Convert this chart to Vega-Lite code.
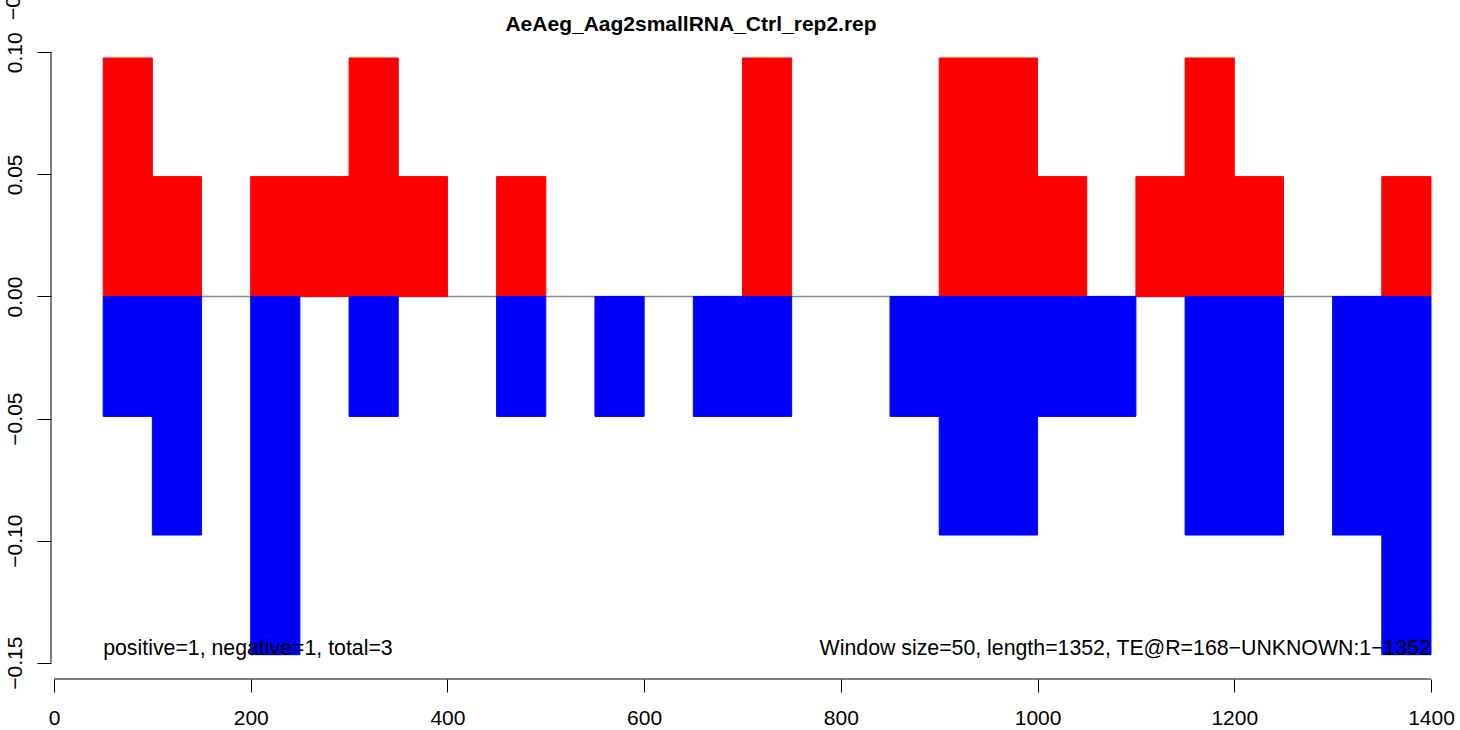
{
  "$schema": "https://vega.github.io/schema/vega-lite/v6.json",
  "width": 1409,
  "height": 649,
  "autosize": "none",
  "padding": {"left": 51, "top": 30, "right": 0, "bottom": 51},
  "background": "white",
  "config": {
    "view": {"stroke": null},
    "font": "Liberation Sans",
    "axisX": {"domain": false, "grid": false, "tickSize": 13, "tickColor": "black", "tickWidth": 1, "labelFontSize": 21, "labelColor": "black", "labelPadding": 15, "labelFont": "Liberation Sans", "title": null},
    "axisY": {"domain": false, "grid": false, "tickSize": 14, "tickColor": "black", "tickWidth": 1, "labelFontSize": 21, "labelColor": "black", "labelPadding": 16, "labelAngle": 270, "labelAlign": "center", "labelBaseline": "alphabetic", "labelFont": "Liberation Sans", "title": null}
  },
  "title": {
    "text": "AeAeg_Aag2smallRNA_Ctrl_rep2.rep",
    "font": "Liberation Sans",
    "fontSize": 21,
    "fontWeight": "bold",
    "color": "black",
    "anchor": "middle",
    "frame": "group",
    "dx": -64.5,
    "baseline": "alphabetic",
    "offset": -85
  },
  "datasets": {
    "bars": [
      {"x": 50, "x2": 100, "y": 0.0977, "strand": "positive"},
      {"x": 100, "x2": 150, "y": 0.0491, "strand": "positive"},
      {"x": 200, "x2": 250, "y": 0.0491, "strand": "positive"},
      {"x": 250, "x2": 300, "y": 0.0491, "strand": "positive"},
      {"x": 300, "x2": 350, "y": 0.0977, "strand": "positive"},
      {"x": 350, "x2": 400, "y": 0.0491, "strand": "positive"},
      {"x": 450, "x2": 500, "y": 0.0491, "strand": "positive"},
      {"x": 700, "x2": 750, "y": 0.0977, "strand": "positive"},
      {"x": 900, "x2": 950, "y": 0.0977, "strand": "positive"},
      {"x": 950, "x2": 1000, "y": 0.0977, "strand": "positive"},
      {"x": 1000, "x2": 1050, "y": 0.0491, "strand": "positive"},
      {"x": 1100, "x2": 1150, "y": 0.0491, "strand": "positive"},
      {"x": 1150, "x2": 1200, "y": 0.0977, "strand": "positive"},
      {"x": 1200, "x2": 1250, "y": 0.0491, "strand": "positive"},
      {"x": 1350, "x2": 1400, "y": 0.0491, "strand": "positive"},
      {"x": 50, "x2": 100, "y": -0.0491, "strand": "negative"},
      {"x": 100, "x2": 150, "y": -0.0977, "strand": "negative"},
      {"x": 200, "x2": 250, "y": -0.1467, "strand": "negative"},
      {"x": 300, "x2": 350, "y": -0.0491, "strand": "negative"},
      {"x": 450, "x2": 500, "y": -0.0491, "strand": "negative"},
      {"x": 550, "x2": 600, "y": -0.0491, "strand": "negative"},
      {"x": 650, "x2": 700, "y": -0.0491, "strand": "negative"},
      {"x": 700, "x2": 750, "y": -0.0491, "strand": "negative"},
      {"x": 850, "x2": 900, "y": -0.0491, "strand": "negative"},
      {"x": 900, "x2": 950, "y": -0.0977, "strand": "negative"},
      {"x": 950, "x2": 1000, "y": -0.0977, "strand": "negative"},
      {"x": 1000, "x2": 1050, "y": -0.0491, "strand": "negative"},
      {"x": 1050, "x2": 1100, "y": -0.0491, "strand": "negative"},
      {"x": 1150, "x2": 1200, "y": -0.0977, "strand": "negative"},
      {"x": 1200, "x2": 1250, "y": -0.0977, "strand": "negative"},
      {"x": 1300, "x2": 1350, "y": -0.0977, "strand": "negative"},
      {"x": 1350, "x2": 1400, "y": -0.1467, "strand": "negative"}
    ],
    "zeroline": [{"x": 50, "x2": 1400, "y": 0}],
    "xaxisline": [{"x": 0, "x2": 1400, "y": -0.15666}],
    "yaxisline": [{"x": -3.05, "y": -0.15, "y2": 0.1}],
    "notes": [
      {"x": 50, "y": -0.1467, "label": "positive=1, negative=1, total=3", "side": "left"},
      {"x": 1400, "y": -0.1467, "label": "Window size=50, length=1352, TE@R=168\u2212UNKNOWN:1\u22121352", "side": "right"}
    ],
    "fragment": [{"x": -34.6, "y": 0.1132, "label": "\u22120.05"}]
  },
  "layer": [
    {
      "data": {"name": "zeroline"},
      "mark": {"type": "rule", "color": "#8c8c8c", "strokeWidth": 1.5},
      "encoding": {
        "x": {"field": "x", "type": "quantitative", "scale": {"domain": [-3.05, 1429.5], "nice": false, "zero": false}, "axis": {"values": [0, 200, 400, 600, 800, 1000, 1200, 1400], "format": "d", "title": null}},
        "x2": {"field": "x2"},
        "y": {"field": "y", "type": "quantitative", "scale": {"domain": [-0.15666, 0.10915], "nice": false, "zero": false}, "axis": {"values": [-0.15, -0.1, -0.05, 0, 0.05, 0.1], "format": ".2f", "title": null}}
      }
    },
    {
      "data": {"name": "bars"},
      "mark": {"type": "bar", "strokeWidth": 1},
      "encoding": {
        "x": {"field": "x", "type": "quantitative"},
        "x2": {"field": "x2"},
        "y": {"field": "y", "type": "quantitative"},
        "y2": {"datum": 0},
        "fill": {"field": "strand", "type": "nominal", "scale": {"domain": ["positive", "negative"], "range": ["#ff0000", "#0000ff"]}, "legend": null},
        "stroke": {"field": "strand", "type": "nominal", "scale": {"domain": ["positive", "negative"], "range": ["#ff0000", "#0000ff"]}, "legend": null}
      }
    },
    {
      "data": {"name": "xaxisline"},
      "mark": {"type": "rule", "color": "black", "strokeWidth": 1},
      "encoding": {
        "x": {"field": "x", "type": "quantitative"},
        "x2": {"field": "x2"},
        "y": {"field": "y", "type": "quantitative"}
      }
    },
    {
      "data": {"name": "yaxisline"},
      "mark": {"type": "rule", "color": "black", "strokeWidth": 1},
      "encoding": {
        "x": {"field": "x", "type": "quantitative"},
        "y": {"field": "y", "type": "quantitative"},
        "y2": {"field": "y2"}
      }
    },
    {
      "data": {"name": "notes"},
      "transform": [{"filter": "datum.side === 'left'"}],
      "mark": {"type": "text", "align": "left", "baseline": "alphabetic", "fontSize": 21.3, "font": "Liberation Sans", "color": "black"},
      "encoding": {
        "x": {"field": "x", "type": "quantitative"},
        "y": {"field": "y", "type": "quantitative"},
        "text": {"field": "label"}
      }
    },
    {
      "data": {"name": "notes"},
      "transform": [{"filter": "datum.side === 'right'"}],
      "mark": {"type": "text", "align": "right", "baseline": "alphabetic", "fontSize": 21.3, "font": "Liberation Sans", "color": "black"},
      "encoding": {
        "x": {"field": "x", "type": "quantitative"},
        "y": {"field": "y", "type": "quantitative"},
        "text": {"field": "label"}
      }
    },
    {
      "data": {"name": "fragment"},
      "mark": {"type": "text", "align": "left", "baseline": "alphabetic", "angle": 270, "fontSize": 21, "font": "Liberation Sans", "color": "black"},
      "encoding": {
        "x": {"field": "x", "type": "quantitative"},
        "y": {"field": "y", "type": "quantitative"},
        "text": {"field": "label"}
      }
    }
  ]
}
